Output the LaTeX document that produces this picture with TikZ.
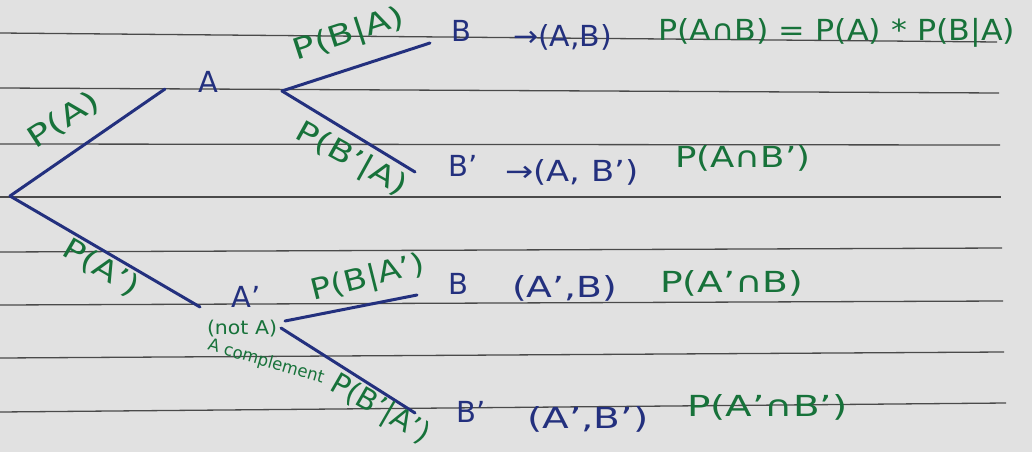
\documentclass[tikz,border=0pt]{standalone}
\usepackage{graphicx}
\usepackage{fontspec}
\setmainfont[Ligatures=TeX]{DejaVu Sans}
\newcommand{\fitw}[2]{\resizebox{#1}{\height}{#2}}
\begin{document}
\begin{tikzpicture}[x=1pt,y=-1pt,
  rule/.style={draw=rulegray,line width=1.3pt},
  branch/.style={draw=inkblue,line width=3pt,line cap=round},
  bl/.style={text=inkblue,font=\fontsize{29}{32}\selectfont,inner sep=0pt},
  gr/.style={text=inkgreen,font=\fontsize{29}{32}\selectfont,inner sep=0pt},
  grs/.style={text=inkgreen,font=\fontsize{19}{21}\selectfont,inner sep=0pt}]
\definecolor{paper}{HTML}{E1E1E1}
\definecolor{rulegray}{HTML}{4A4A4A}
\definecolor{inkblue}{HTML}{23307E}
\definecolor{inkgreen}{HTML}{17723A}
\fill[paper] (0,0) rectangle (1032,452);
\useasboundingbox (0,0) rectangle (1032,452);
% ruled lines
\foreach \l/\r/\e in {33/42/997,88/93/999,144/145/1000,197/197/1001,252/248/1002,305/301/1003,358/352/1004,412/403/1006}
  \draw[rule] (0,\l) -- (\e,\r);
% tree points
\coordinate (r) at (10,196);
\coordinate (ae) at (165,89);
\coordinate (as) at (282,91);
\coordinate (b1) at (430,43);
\coordinate (b2) at (415,172);
\coordinate (ne) at (200,307);
\coordinate (ns1) at (285,321);
\coordinate (ns2) at (281,328);
\coordinate (b3) at (417,295);
\coordinate (b4) at (415,413);
\draw[branch] (r) -- (ae);
\draw[branch] (r) -- (ne);
\draw[branch] (as) -- (b1);
\draw[branch] (as) -- (b2);
\draw[branch] (ns1) -- (b3);
\draw[branch] (ns2) -- (b4);
% event labels
\node[bl] (A) at (208,82) {A};
\node[bl] (Ac) at (246,297) {A'};
\node[grs] (notA) at (242,329) {\fitw{70pt}{(not A)}};
\node[grs,rotate=-16,font=\fontsize{17}{19}\selectfont] (acomp) at (266,362) {\fitw{120pt}{A complement}};
\node[bl] (B1) at (461,31) {B};
\node[bl] (B2) at (463,166) {B'};
\node[bl] (B3) at (458,284) {B};
\node[bl] (B4) at (471,412) {B'};
% branch probabilities
\node[gr,rotate=33] (pA) at (64,120) {\fitw{80pt}{P(A)}};
\node[gr,rotate=-30] (pAc) at (101,268) {\fitw{84pt}{P(A')}};
\node[gr,rotate=18] (pBA) at (349,35) {\fitw{115pt}{P(B|A)}};
\node[gr,rotate=-29] (pBcA) at (351,160) {\fitw{122pt}{P(B'|A)}};
\node[gr,rotate=14] (pBAc) at (368,279) {\fitw{116pt}{P(B|A')}};
\node[gr,rotate=-30] (pBcAc) at (380,410) {\fitw{110pt}{P(B'|A')}};
% outcomes
\node[bl,anchor=west] (o1) at (513,37) {\fitw{99pt}{→(A,B)}};
\node[gr,anchor=west] (q1) at (658,33) {\fitw{357pt}{P(A∩B) = P(A) * P(B|A)}};
\node[bl,anchor=west] (o2) at (505,172) {\fitw{133pt}{→(A, B')}};
\node[gr,anchor=west] (q2) at (675,158) {\fitw{135pt}{P(A∩B')}};
\node[bl,anchor=west] (o3) at (512,288) {\fitw{105pt}{(A',B)}};
\node[gr,anchor=west] (q3) at (660,283) {\fitw{143pt}{P(A'∩B)}};
\node[bl,anchor=west] (o4) at (527,419) {\fitw{121pt}{(A',B')}};
\node[gr,anchor=west] (q4) at (687,407) {\fitw{160pt}{P(A'∩B')}};
\end{tikzpicture}
\end{document}
